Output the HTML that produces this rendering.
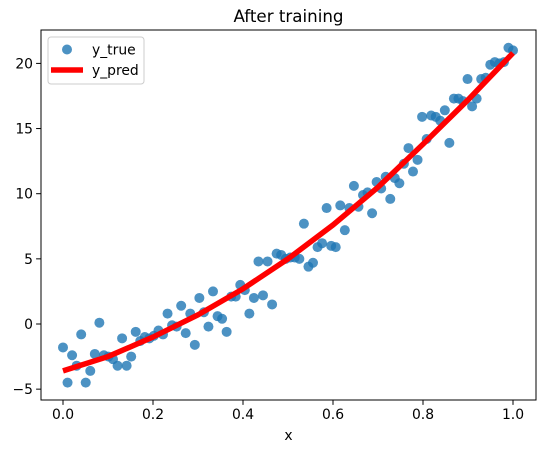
<!DOCTYPE html>
<html><head><meta charset="utf-8"><style>
body{margin:0;background:#fff}
svg{display:block;font-family:"DejaVu Sans","Liberation Sans",sans-serif}
</style></head><body>
<svg id="chart" width="546" height="453" xmlns="http://www.w3.org/2000/svg"></svg>
<script>
const yTrue = [-1.8,-4.5,-2.4,-3.2,-0.8,-4.5,-3.6,-2.3,0.1,-2.4,
-2.5,-2.7,-3.2,-1.1,-3.2,-2.5,-0.6,-1.3,-1.0,-1.1,
-0.9,-0.5,-0.8,0.8,-0.1,-0.2,1.4,-0.7,0.8,-1.6,
2.0,0.9,-0.2,2.5,0.6,0.4,-0.6,2.1,2.1,3.0,
2.6,0.8,2.0,4.8,2.2,4.8,1.5,5.4,5.3,5.0,
5.1,5.1,5.0,7.7,4.4,4.7,5.9,6.2,8.9,6.0,
5.9,9.1,7.2,8.9,10.6,9.0,9.9,10.1,8.5,10.9,
10.4,11.3,9.6,11.2,10.8,12.3,13.5,11.7,12.6,15.9,
14.2,16.0,15.9,15.6,16.4,13.9,17.3,17.3,17.1,18.8,
16.7,17.3,18.8,18.9,19.9,20.1,20.0,20.1,21.2,21.0];
const predX = [0,0.1,0.2,0.3,0.4,0.5,0.6,0.7,0.8,0.9,1.0];
const predY = [-3.6,-2.5,-1.0,0.7,2.7,5.0,7.6,10.5,13.8,17.2,20.8];
const xTicks = [0,0.2,0.4,0.6,0.8,1.0];
const xTickLabels = ["0.0","0.2","0.4","0.6","0.8","1.0"];
const yTicks = [-5,0,5,10,15,20];
const yTickLabels = ["−5","0","5","10","15","20"];

const L=41,R=536,T=30,B=400;
const xs=v=>63+v*450;
const ys=v=>324-v*13.03;
const svg=document.getElementById('chart');
const NS='http://www.w3.org/2000/svg';
function mk(tag,attrs,parent){const e=document.createElementNS(NS,tag);for(const k in attrs)e.setAttribute(k,attrs[k]);(parent||svg).appendChild(e);return e;}

const t=mk('text',{x:288.5,y:22,'text-anchor':'middle','font-size':'16.7',fill:'#000'});
t.textContent='After training';



const pts=mk('g',{});


yTrue.forEach((v,i)=>{
  const c=mk('circle',{cx:xs(i/(yTrue.length-1)),cy:ys(v),r:5,fill:'#1f77b4','fill-opacity':0.8},pts);
  
  
});
const line=mk('polyline',{points:predX.map((x,i)=>xs(x)+','+ys(predY[i])).join(' '),fill:'none',stroke:'#ff0000','stroke-width':5.5});



const frame=mk('rect',{x:L,y:T,width:R-L,height:B-T,fill:'none',stroke:'#000','stroke-width':1});



xTicks.forEach((v,i)=>{
  const g=mk('g',{});
  
  
  mk('line',{x1:xs(v),x2:xs(v),y1:B,y2:B+4.9,stroke:'#000'},g);
  const tx=mk('text',{x:xs(v),y:B+19,'text-anchor':'middle','font-size':'13.9'},g);
  tx.textContent=xTickLabels[i];
});
yTicks.forEach((v,i)=>{
  const g=mk('g',{});
  
  
  mk('line',{x1:L-4.9,x2:L,y1:ys(v),y2:ys(v),stroke:'#000'},g);
  const tx=mk('text',{x:L-8,y:ys(v)+5,'text-anchor':'end','font-size':'13.9'},g);
  tx.textContent=yTickLabels[i];
});
const xl=mk('text',{x:288.5,y:440,'text-anchor':'middle','font-size':'13.9'});
xl.textContent='x';



const lg=mk('g',{});


mk('rect',{x:48,y:37,width:96,height:47,rx:3,fill:'#fff','fill-opacity':0.8,stroke:'#ccc'},lg);
mk('circle',{cx:67,cy:49.5,r:5,fill:'#1f77b4','fill-opacity':0.8},lg);
const l1=mk('text',{x:92,y:54.5,'font-size':'13.9'},lg);l1.textContent='y_true';


mk('line',{x1:51,x2:83,y1:70,y2:70,stroke:'#ff0000','stroke-width':5.5},lg);
const l2=mk('text',{x:92,y:75,'font-size':'13.9'},lg);l2.textContent='y_pred';


</script>
</body></html>
